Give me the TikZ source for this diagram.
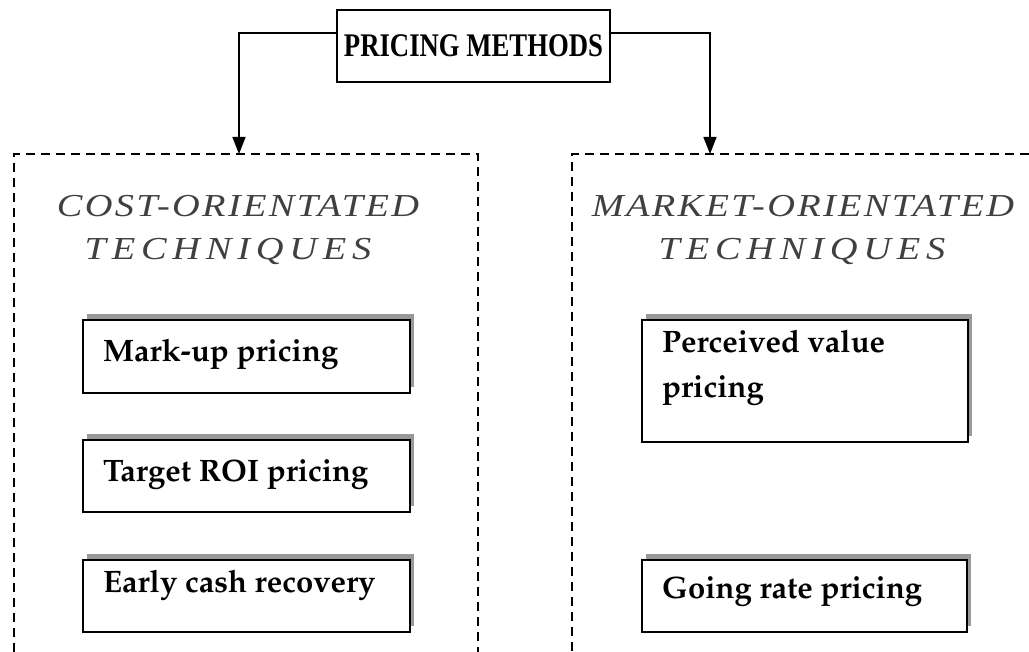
\documentclass[tikz,border=0pt]{standalone}
\usepackage[T1]{fontenc}
\usepackage{fontspec}
\usepackage{graphicx}
\setmainfont{Liberation Serif}
\newfontfamily\headfont[LetterSpace=6]{Liberation Serif}
\newcommand\boxfont{\fontencoding{T1}\fontfamily{ppl}\fontseries{b}\fontshape{n}\fontsize{31}{45}\selectfont}
\usetikzlibrary{arrows.meta,shadows}
\begin{document}
\begin{tikzpicture}[x=1pt,y=-1pt,
  titlebox/.style={draw,line width=1.5pt,minimum width=273pt,minimum height=72pt,inner sep=0pt,
    font=\bfseries\fontsize{33}{33}\selectfont},
  conn/.style={line width=1.5pt,-{Triangle[length=17pt,width=13pt]}},
  frame/.style={line width=1.7pt,dash pattern=on 9pt off 6pt},
  heading/.style={font=\headfont\itshape\fontsize{32}{43}\selectfont,text=black!75,inner sep=0pt},
  itembox/.style={draw,fill=white,line width=1.8pt,minimum width=327pt,inner sep=0pt,
    copy shadow={shadow xshift=4pt,shadow yshift=6pt,fill=black!40,draw=none}},
  itemtext/.style={font=\boxfont,inner sep=0pt,align=left}]
\useasboundingbox (0,0) rectangle (1029,652);

% top node
\node[titlebox] (title) at (473.5,46) {\scalebox{0.81}[1]{PRICING METHODS}};

% dashed frames, open at the lower and outer edges
\coordinate (lend) at (239,154);
\coordinate (rend) at (710,154);
\draw[frame] (14,652) -- (14,154) -- (478,154) -- (478,652);
\draw[frame] (1029,154) -- (572,154) -- (572,652);

% connectors
\coordinate (lk) at (239,33);
\coordinate (rk) at (710,33);
\draw[conn] (title.west |- lk) -- (lk) -- (lend);
\draw[conn] (title.east |- rk) -- (rk) -- (rend);

% group headings
\node[heading,anchor=base] (costh) at (238,217) {\scalebox{1.2}[1]{COST-ORIENTATED}};
\node[heading,anchor=base] (costh2) at (228,260) {\scalebox{1.2}[1]{\addfontfeature{LetterSpace=15}TECHNIQUES}};
\node[heading,anchor=base] (markh) at (803,217) {\scalebox{1.2}[1]{MARKET-ORIENTATED}};
\node[heading,anchor=base] (markh2) at (802,260) {\scalebox{1.2}[1]{\addfontfeature{LetterSpace=15}TECHNIQUES}};

% cost-orientated techniques
\node[itembox,minimum height=73pt] (markup) at (246.5,356.5) {};
\node[itemtext,anchor=base west] (markupt) at (103,362) {Mark-up pricing};
\node[itembox,minimum height=72pt] (roi) at (246.5,476) {};
\node[itemtext,anchor=base west] (roit) at (103,482) {Target ROI pricing};
\node[itembox,minimum height=72pt] (early) at (246.5,596) {};
\node[itemtext,anchor=base west] (earlyt) at (103,592) {Early cash recovery};

% market-orientated techniques
\node[itembox,minimum height=122pt,minimum width=326pt] (perc) at (805,381) {};
\node[itemtext,anchor=north west] (perct) at (662,330) {Perceived value\\pricing};
\node[itembox,minimum height=72pt,minimum width=325pt] (going) at (804.5,596) {};
\node[itemtext,anchor=base west] (goingt) at (662,598) {Going rate pricing};
\end{tikzpicture}
\end{document}
